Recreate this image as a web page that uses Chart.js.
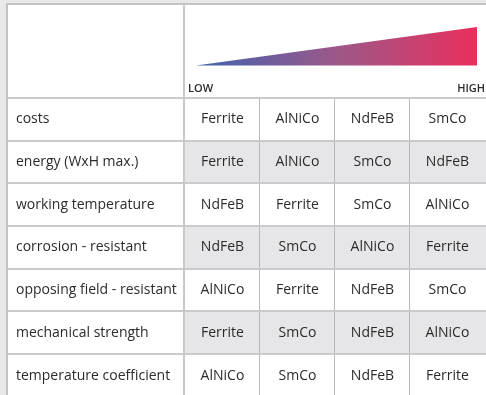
<!DOCTYPE html>
<html>
<head>
<meta charset="utf-8">
<script src="https://cdn.jsdelivr.net/npm/chart.js@4"></script>
<style>
  html, body { margin: 0; padding: 0; background: #e8e8ea; }
  #wrap { width: 486px; height: 395px; }
</style>
</head>
<body>
<div id="wrap"><canvas id="magnetTable"></canvas></div>
<script>
// Magnet materials ranked per property, from LOW (left) to HIGH (right)
const properties = ['costs', 'energy (WxH max.)', 'working temperature', 'corrosion - resistant',
  'opposing field - resistant', 'mechanical strength', 'temperature coefficient'];
const rank1 = ['Ferrite', 'Ferrite', 'NdFeB', 'NdFeB', 'AlNiCo', 'Ferrite', 'AlNiCo'];
const rank2 = ['AlNiCo', 'AlNiCo', 'Ferrite', 'SmCo', 'Ferrite', 'SmCo', 'SmCo'];
const rank3 = ['NdFeB', 'SmCo', 'SmCo', 'AlNiCo', 'NdFeB', 'NdFeB', 'NdFeB'];
const rank4 = ['SmCo', 'NdFeB', 'AlNiCo', 'Ferrite', 'SmCo', 'AlNiCo', 'Ferrite'];
const rampLabels = ['LOW', 'HIGH'];
const rampLevels = [0, 1];

const ranks = [rank1, rank2, rank3, rank4];
const FONT = "'Open Sans', sans-serif";

// table layout in scale units: label column left of 0, rank columns 0..4, header above row 0
const LABEL_LEFT = -2.36;
const TABLE_RIGHT = 4.2;
const HEADER_TOP = -2.2;

const tablePlugin = {
  id: 'tablePlugin',
  beforeDatasetsDraw(chart) {
    const { ctx, scales: { x, y } } = chart;
    const l = x.getPixelForValue(LABEL_LEFT), r = x.getPixelForValue(TABLE_RIGHT);
    const t = y.getPixelForValue(HEADER_TOP), b = y.getPixelForValue(properties.length);
    ctx.save();
    ctx.fillStyle = '#ffffff';
    ctx.fillRect(l, t, r - l, b - t);

    // zebra rows on the rank cells
    ctx.fillStyle = '#e6e6e8';
    properties.forEach((p, i) => {
      if (i % 2 === 1) {
        const y0 = y.getPixelForValue(i), y1 = y.getPixelForValue(i + 1);
        ctx.fillRect(x.getPixelForValue(0), y0, r - x.getPixelForValue(0), y1 - y0);
      }
    });

    // thin dividers between rank columns
    ctx.fillStyle = '#b9b9bb';
    for (let c = 1; c < ranks.length; c++) {
      const px = Math.round(x.getPixelForValue(c));
      ctx.fillRect(px, y.getPixelForValue(0), 1, b - y.getPixelForValue(0));
    }

    // row lines
    ctx.fillStyle = '#cacacc';
    for (let i = 0; i <= properties.length; i++) {
      const py = Math.round(y.getPixelForValue(i));
      ctx.fillRect(l, py - 1, r - l, 2);
    }
    const px0 = Math.round(x.getPixelForValue(0));
    ctx.fillRect(px0 - 1, t, 2, b - t);

    // outer frame
    ctx.fillStyle = '#c2c2c4';
    ctx.fillRect(l - 1, Math.round(t) - 1, r - l, 2);
    ctx.fillRect(Math.round(l) - 1, t - 1, 2, b - t);
    ctx.restore();
  },
  afterDatasetsDraw(chart) {
    const { ctx, scales: { x, y, xr } } = chart;
    ctx.save();
    ctx.fillStyle = '#2b2b2b';
    ctx.font = '14px ' + FONT;
    ctx.textBaseline = 'middle';
    properties.forEach((p, i) => {
      const cy = y.getPixelForValue(i + 0.5);
      ctx.textAlign = 'left';
      ctx.fillText(p, x.getPixelForValue(LABEL_LEFT) + 9, cy);
      ctx.textAlign = 'center';
      ranks.forEach((col, c) => {
        ctx.fillText(col[i], x.getPixelForValue(c + 0.5) + 1, cy);
      });
    });

    ctx.font = '600 11px ' + FONT;
    ctx.textBaseline = 'alphabetic';
    const by = y.getPixelForValue(0) - 6;
    ctx.textAlign = 'left';
    ctx.fillText(rampLabels[0], xr.getPixelForValue(rampLevels[0]) - 8, by);
    ctx.textAlign = 'right';
    ctx.fillText(rampLabels[1], xr.getPixelForValue(rampLevels[1]) + 8, by);
    ctx.restore();
  }
};

const rampGradient = (context) => {
  const chart = context.chart;
  if (!chart.chartArea) return '#9c5889';
  const xr = chart.scales.xr;
  const g = chart.ctx.createLinearGradient(xr.getPixelForValue(rampLevels[0]), 0,
    xr.getPixelForValue(rampLevels[1]), 0);
  g.addColorStop(0, '#3f63b0');
  g.addColorStop(0.5, '#9c5889');
  g.addColorStop(1, '#ea2f5c');
  return g;
};

const magnetCtx = document.getElementById('magnetTable').getContext('2d');
new Chart(magnetCtx, {
  type: 'line',
  data: {
    datasets: [{
      label: 'level',
      data: rampLevels.map(v => ({ x: v, y: v })),
      xAxisID: 'xr',
      yAxisID: 'yr',
      borderColor: 'transparent',
      borderWidth: 0,
      pointRadius: 0,
      tension: 0,
      backgroundColor: rampGradient,
      fill: { value: 0 }
    }]
  },
  options: {
    responsive: true,
    maintainAspectRatio: false,
    animation: false,
    events: [],
    layout: { padding: 0 },
    scales: {
      x: { type: 'linear', display: false, min: -2.453, max: 4.027 },
      y: { type: 'linear', display: false, reverse: true, min: -2.295, max: 6.956 },
      xr: { type: 'linear', display: false, min: -0.6975, max: 1.032 },
      yr: { type: 'linear', display: false, min: -8.558, max: 1.701 }
    },
    plugins: {
      legend: { display: false },
      tooltip: { enabled: false }
    }
  },
  plugins: [tablePlugin]
});
</script>
</body>
</html>
